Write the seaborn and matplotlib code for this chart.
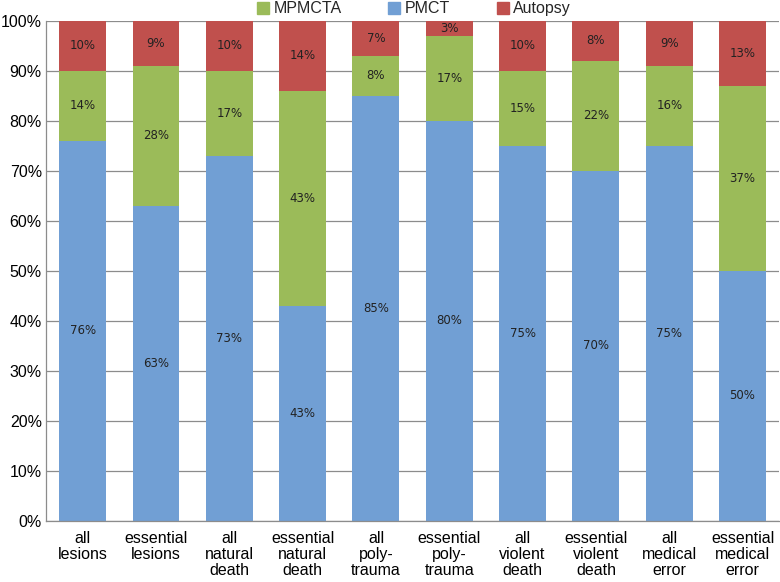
import pandas as pd
import matplotlib.pyplot as plt
import seaborn as sns
from matplotlib.patches import Patch
from matplotlib.ticker import PercentFormatter

sns.set_style('white')
plt.rcParams['font.family'] = ['Liberation Sans', 'DejaVu Sans']

categories = [
    'all\nlesions', 'essential\nlesions', 'all\nnatural\ndeath', 'essential\nnatural\ndeath',
    'all\npoly-\ntrauma', 'essential\npoly-\ntrauma', 'all\nviolent\ndeath', 'essential\nviolent\ndeath',
    'all\nmedical\nerror', 'essential\nmedical\nerror',
]
pmct    = [76, 63, 73, 43, 85, 80, 75, 70, 75, 50]
mpmcta  = [14, 28, 17, 43, 8, 17, 15, 22, 16, 37]
autopsy = [10, 9, 10, 14, 7, 3, 10, 8, 9, 13]

df = pd.DataFrame({'cat': categories, 'PMCT': pmct, 'MPMCTA': mpmcta, 'Autopsy': autopsy})
df['base2'] = df['PMCT']
df['base3'] = df['PMCT'] + df['MPMCTA']

colors = {'PMCT': '#719fd4', 'MPMCTA': '#9bbb59', 'Autopsy': '#c0504d'}

fig = plt.figure(figsize=(7.8, 5.82), dpi=100)
ax = fig.add_axes([0.059, 0.105, 0.94, 0.859])

w = 0.64
bar_kw = dict(width=w, ax=ax, saturation=1, linewidth=0, edgecolor='none')
sns.barplot(data=df, x='cat', y='PMCT', color=colors['PMCT'], **bar_kw)
sns.barplot(data=df, x='cat', y='MPMCTA', bottom=df['base2'], color=colors['MPMCTA'], **bar_kw)
sns.barplot(data=df, x='cat', y='Autopsy', bottom=df['base3'], color=colors['Autopsy'], **bar_kw)

lab_kw = dict(ha='center', va='center', fontsize=8.5, family='DejaVu Sans', color='#222222')
for i, row in df.iterrows():
    ax.text(i, row['PMCT'] / 2, f"{row['PMCT']}%", **lab_kw)
    ax.text(i, row['base2'] + row['MPMCTA'] / 2, f"{row['MPMCTA']}%", **lab_kw)
    ax.text(i, row['base3'] + row['Autopsy'] / 2, f"{row['Autopsy']}%", **lab_kw)

ax.set_ylim(0, 100)
ax.set_xlim(-0.5, len(categories) - 0.5)
ax.set_yticks(range(0, 101, 10))
ax.yaxis.set_major_formatter(PercentFormatter(decimals=0))
ax.grid(axis='y', color='#8c8c8c', linewidth=0.9)
ax.set_axisbelow(True)
ax.set_xlabel('')
ax.set_ylabel('')
ax.tick_params(axis='both', labelsize=11.5, length=0, colors='black')
ax.tick_params(axis='x', pad=7)
ax.tick_params(axis='y', pad=3)
for lbl in ax.get_xticklabels():
    lbl.set_linespacing(1.12)
for side in ['top', 'right']:
    ax.spines[side].set_visible(False)
for side in ['left', 'bottom']:
    ax.spines[side].set_color('#8c8c8c')
    ax.spines[side].set_linewidth(0.9)

handles = [Patch(color=colors[k]) for k in ['MPMCTA', 'PMCT', 'Autopsy']]
fig.legend(handles, ['MPMCTA', 'PMCT', 'Autopsy'], loc='center', bbox_to_anchor=(0.531, 0.985),
           ncol=3, frameon=False, fontsize=11.5, handlelength=0.75, handleheight=0.75,
           handletextpad=0.3, columnspacing=2.9, borderpad=0)

fig.savefig('out.png', dpi=100)
